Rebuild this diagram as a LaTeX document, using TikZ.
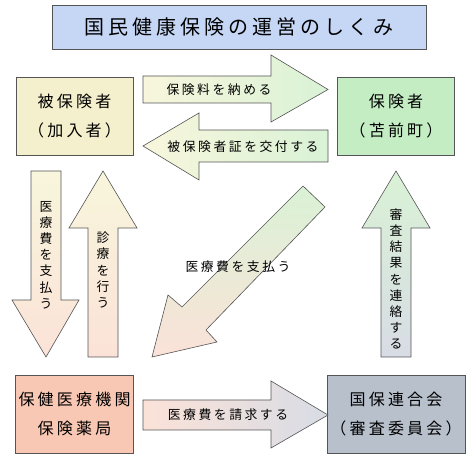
\documentclass[tikz,border=0pt]{standalone}
\usepackage{fontspec}
\newfontfamily\jp[LetterSpace=20]{Noto Sans CJK JP}
\definecolor{titleblue}{HTML}{C6D7F6}
\definecolor{boxyellow}{HTML}{F4EFCC}
\definecolor{boxgreen}{HTML}{C4EDC4}
\definecolor{boxpink}{HTML}{F9C8B5}
\definecolor{boxgray}{HTML}{B8C0CC}
\definecolor{arryellow}{HTML}{F8F6DC}
\definecolor{arrgreen}{HTML}{D9F2D6}
\definecolor{arrpink}{HTML}{FBE2D8}
\definecolor{arrgray}{HTML}{D8DCE5}
\definecolor{edge}{HTML}{555555}
\tikzset{
  box/.style={draw=edge, line width=0.8pt, minimum width=117, minimum height=78,
    align=center, font=\jp\fontsize{16}{29}\selectfont},
  flow/.style={draw=edge, line width=0.6pt},
  flowtext/.style={font=\jp\fontsize{12.8}{15.4}\selectfont, align=center, inner sep=0pt},
  flowvtext/.style={font=\jp\fontsize{12.8}{16.2}\selectfont, align=center, inner sep=0pt}
}
\begin{document}
\begin{tikzpicture}[x=1pt,y=1pt]
			\useasboundingbox[fill=white] (0,0) rectangle (470,470);
			% Title
			\node[draw=edge, line width=0.8pt, fill=titleblue, minimum width=374, minimum height=44,
			  font=\jp\fontsize{20}{24}\selectfont] (title) at (239,443) {国民健康保険の運営のしくみ};
			% Boxes
			\node[box, fill=boxyellow] (hihoken) at (74.5,354) {被保険者\\（加入者）};
			\node[box, fill=boxgreen] (hoken) at (396,354) {保険者\\（苫前町）};
			\node[box, fill=boxpink] (iryo) at (74.5,56) {保健医療機関\\保険薬局};
			\node[box, fill=boxgray] (kokuho) at (396,56) {国保連合会\\（審査委員会）};
			% Top arrows
			\shade[flow, left color=arryellow, right color=arrgreen]
			  (143,394) -- (271,394) -- (271,415) -- (328,380.5) -- (271,348) -- (271,367) -- (143,367) -- cycle;
			\node[flowtext] (pay) at (219,380) {保険料を納める};
			\shade[flow, left color=arryellow, right color=arrgreen]
			  (328,340) -- (199,340) -- (199,357) -- (143,324) -- (199,290) -- (199,308) -- (328,308) -- cycle;
			\node[flowtext] (card) at (243,323) {被保険者証を交付する};
			% Left vertical arrows
			\shade[flow, top color=arryellow, bottom color=arrpink]
			  (31,299) -- (61,299) -- (61,170) -- (79,170) -- (46,113) -- (12,170) -- (31,170) -- cycle;
			\node[flowvtext] (payfee) at (46,215) {医\\療\\費\\を\\支\\払\\う};
			\shade[flow, top color=arryellow, bottom color=arrpink]
			  (88,113) -- (118,113) -- (118,242) -- (137,242) -- (103,299) -- (69,242) -- (88,242) -- cycle;
			\node[flowvtext] (treat) at (103,200) {診\\療\\を\\行\\う};
			% Diagonal arrow
			\shade[flow, top color=arrgreen, bottom color=arrpink]
			  (303,284) -- (182,163) -- (168,175) -- (152,113) -- (217,128) -- (206,140) -- (325,263) -- cycle;
			\node[flowtext] (payfee2) at (238,203) {医療費を支払う};
			% Right vertical arrow
			\shade[flow, top color=arrgreen, bottom color=arrgray]
			  (381,113) -- (411,113) -- (411,242) -- (430,242) -- (396,299) -- (362,242) -- (381,242) -- cycle;
			\node[flowvtext] (result) at (396,191) {審\\査\\結\\果\\を\\連\\絡\\す\\る};
			% Bottom arrow
			\shade[flow, left color=arrpink, right color=arrgray]
			  (143,70) -- (271,70) -- (271,89) -- (328,55) -- (271,22) -- (271,40) -- (143,40) -- cycle;
			\node[flowtext] (claim) at (228,55) {医療費を請求する};
		\end{tikzpicture}
\end{document}
